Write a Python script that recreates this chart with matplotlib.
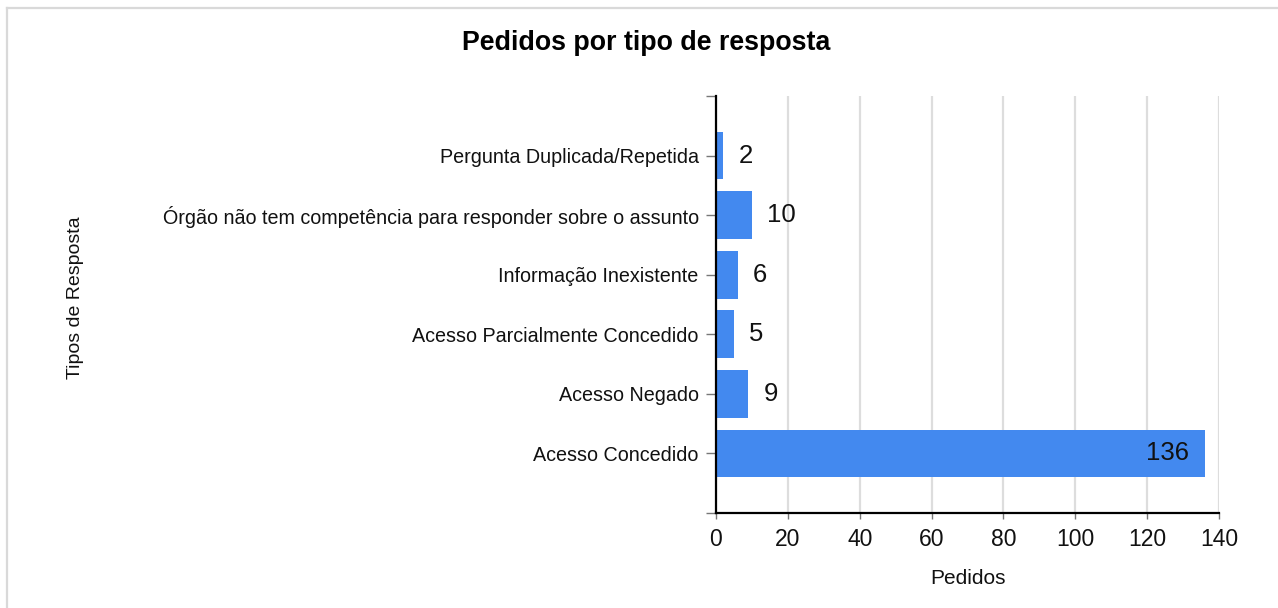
import matplotlib
matplotlib.use("Agg")
import matplotlib.pyplot as plt
from matplotlib.lines import Line2D

# data
categorias = ["Pergunta Duplicada/Repetida",
              "Órgão não tem competência para responder sobre o assunto",
              "Informação Inexistente",
              "Acesso Parcialmente Concedido",
              "Acesso Negado",
              "Acesso Concedido"]
pedidos = [2, 10, 6, 5, 9, 136]
xticks = [0, 20, 40, 60, 80, 100, 120, 140]

plt.rcParams['font.family'] = ['Liberation Sans', 'DejaVu Sans']
azul = "#4389ef"

fig = plt.figure(figsize=(12.78, 6.08), dpi=100)
ax = fig.add_axes([716/1278, 1-513/608, (1219-716)/1278, (513-96)/608])

n = len(categorias)
pos = [n-1-i for i in range(n)]
ax.barh(pos, pedidos, height=0.8, color=azul, zorder=3)

for p, v in zip(pos, pedidos):
    if v > 100:
        ax.annotate(str(v), (v, p), xytext=(-11, 0), textcoords="offset points",
                    ha="right", va="center", fontsize=18.5, color="#111111", zorder=4)
    else:
        ax.annotate(str(v), (v, p), xytext=(11, 0), textcoords="offset points",
                    ha="left", va="center", fontsize=18.5, color="#111111", zorder=4)

ax.set_xlim(0, 140)
ax.set_ylim(-1, n)
ax.set_xticks(xticks)
ax.set_xticklabels([str(t) for t in xticks], fontsize=16.5, color="#111111")
ax.set_yticks(list(range(-1, n+1)))
ax.set_yticklabels([""] + categorias[::-1] + [""], fontsize=14.25, color="#111111")
ax.tick_params(axis="y", length=7.5, width=1, color="#777777", pad=5)
ax.tick_params(axis="x", length=4.5, width=1, color="#777777", pad=6)

ax.grid(axis="x", color="#dddddd", linewidth=1.6, zorder=0)
for s in ["top", "right"]:
    ax.spines[s].set_visible(False)
for s in ["left", "bottom"]:
    ax.spines[s].set_linewidth(1.6)
    ax.spines[s].set_color("black")
    ax.spines[s].set_zorder(5)

ax.set_xlabel("Pedidos", fontsize=15, color="#111111", labelpad=13)
fig.text(75/1278, 1-298/608, "Tipos de Resposta", rotation=90, fontsize=14,
         color="#111111", ha="center", va="center")
fig.text(646/1278, 1-43/608, "Pedidos por tipo de resposta", fontsize=19.3,
         fontweight="bold", color="#000000", ha="center", va="center")

# moldura cinza (topo e esquerda)
fig.add_artist(Line2D([7/1278, 1], [1-8/608, 1-8/608], color="#d9d9d9", lw=1.6))
fig.add_artist(Line2D([7/1278, 7/1278], [0, 1-8/608], color="#d9d9d9", lw=1.6))

fig.savefig("out.png", dpi=100)
